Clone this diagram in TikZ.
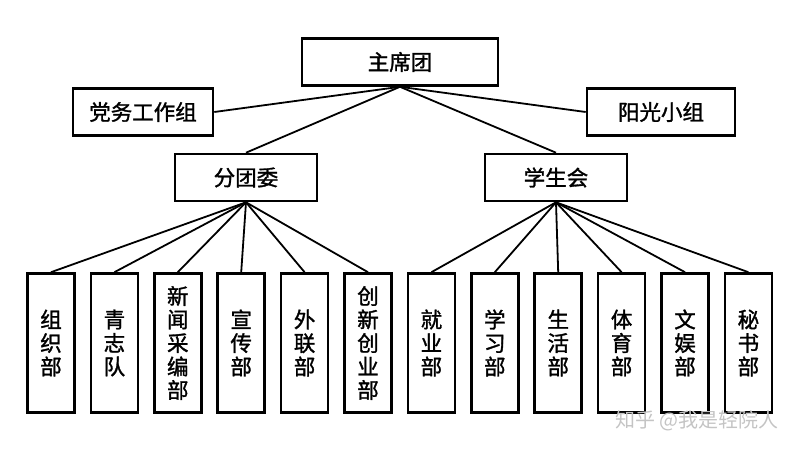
\documentclass[tikz,border=0pt]{standalone}
\usepackage{fontspec}
\usepackage{tikz}
\setmainfont{Noto Sans CJK SC}[FakeBold=1.4, AutoFakeBold=1.4]
\newfontfamily\markfont{Noto Sans CJK SC}
\definecolor{markgray}{RGB}{196,196,196}

\tikzset{
  unit/.style={draw=black, line width=2.6pt, fill=white, inner sep=0pt,
    font=\fontsize{21.5}{23.5}\selectfont},
  wide/.style={unit, minimum width=142pt, minimum height=47pt},
  tall/.style={unit, minimum width=47pt, minimum height=139pt, align=center},
  link/.style={line width=1.8pt, black}
}

\begin{document}
\begin{tikzpicture}[x=1pt, y=-1pt]
    \useasboundingbox (0,0) rectangle (800,450);

    % Draw the upper level
    \node[wide, minimum width=196pt] (zhuxi) at (400,62) {主席团};
    \node[wide, minimum width=140pt] (dangwu) at (143,112) {党务工作组};
    \node[wide, minimum width=148pt] (yangguang) at (661,112) {阳光小组};
    \node[wide] (fentuan) at (246,177.5) {分团委};
    \node[wide] (xuesheng) at (556,177.5) {学生会};

    \draw[link] (dangwu.east) -- (zhuxi.south);
    \draw[link] (yangguang.west) -- (zhuxi.south);
    \draw[link] (fentuan.north) -- (zhuxi.south);
    \draw[link] (xuesheng.north) -- (zhuxi.south);

    % Draw the departments
    \foreach \i/\t in {0/{组\\织\\部}, 1/{青\\志\\队}, 2/{新\\闻\\采\\编\\部},
                       3/{宣\\传\\部}, 4/{外\\联\\部}, 5/{创\\新\\创\\业\\部}} {
        \node[tall] (bu\i) at ({51+63.4*\i},343) {\t};
        \draw[link] (bu\i.north) -- (fentuan.south);
    }
    \foreach \i/\t in {6/{就\\业\\部}, 7/{学\\习\\部}, 8/{生\\活\\部},
                       9/{体\\育\\部}, 10/{文\\娱\\部}, 11/{秘\\书\\部}} {
        \node[tall] (bu\i) at ({51+63.4*\i},343) {\t};
        \draw[link] (bu\i.north) -- (xuesheng.south);
    }

    % Watermark
    \node[text=markgray, font=\markfont\fontsize{20}{21}\selectfont, anchor=east] (mark) at (782,421) {知乎 @我是轻院人};
\end{tikzpicture}
\end{document}
